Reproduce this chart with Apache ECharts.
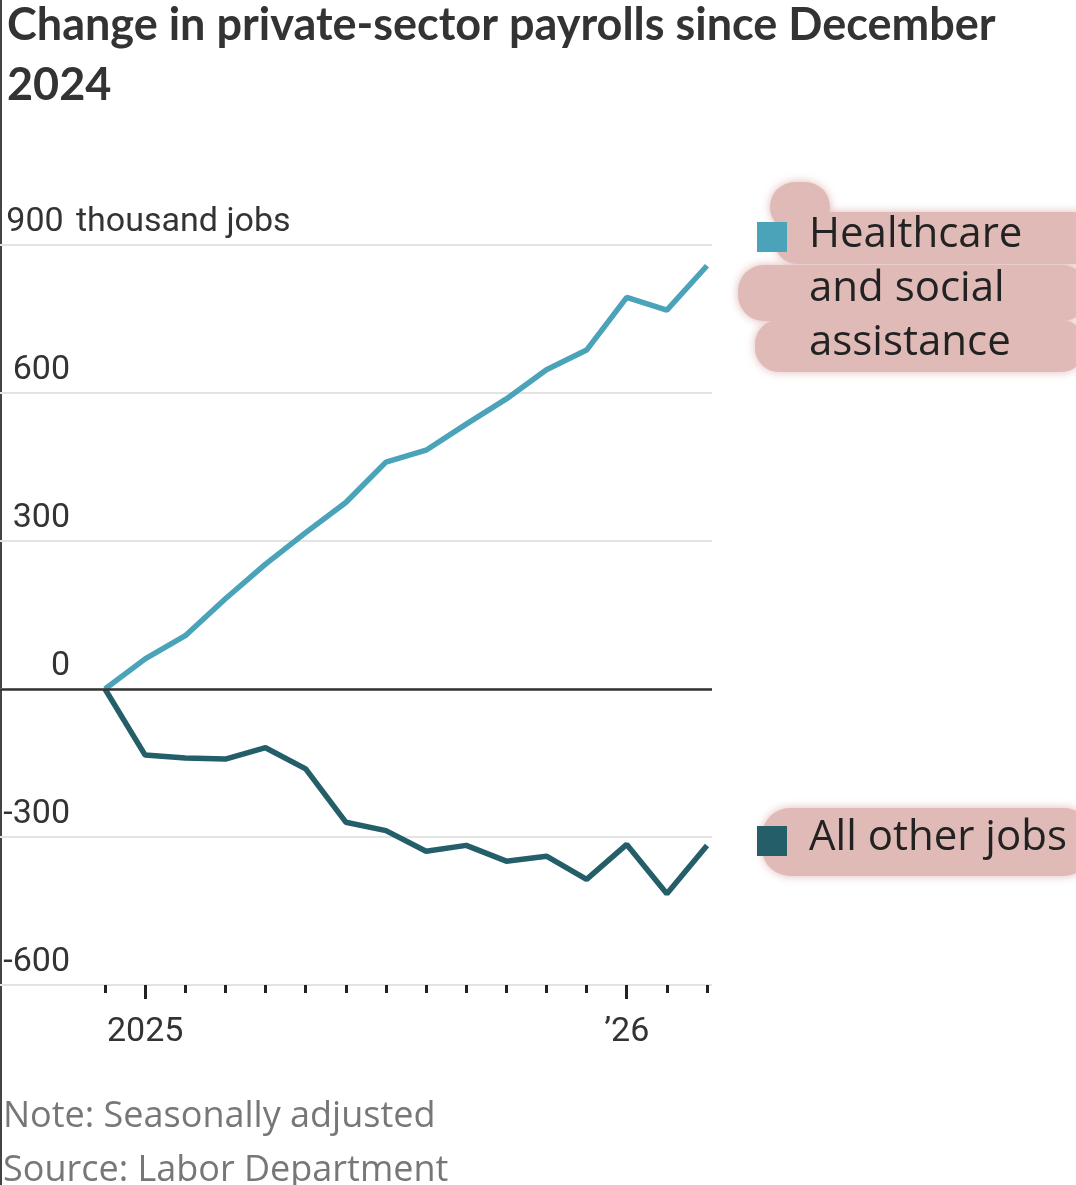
<!DOCTYPE html>
<html>
<head>
<meta charset="utf-8">
<script src="https://cdn.jsdelivr.net/npm/echarts@6/dist/echarts.min.js"></script>
<style>
  html, body { margin: 0; padding: 0; background: #fff; }
  #chart { width: 1076px; height: 1185px; }
</style>
</head>
<body>
<div id="chart"></div>
<script>
// months from Dec 2024 to Mar 2026
var months = ['Dec 2024', 'Jan 2025', 'Feb 2025', 'Mar 2025', 'Apr 2025', 'May 2025', 'Jun 2025',
  'Jul 2025', 'Aug 2025', 'Sep 2025', 'Oct 2025', 'Nov 2025', 'Dec 2025', 'Jan 2026', 'Feb 2026', 'Mar 2026'];

// change since Dec 2024, thousands of jobs
var healthcare = [0, 61, 108, 183, 253, 317, 378, 460, 484, 537, 588, 647, 687, 794, 768, 858];
var otherJobs = [0, -134, -140, -142, -119, -162, -270, -287, -329, -317, -349, -339, -386, -315, -415, -317];

var yTicks = [-600, -300, 0, 300, 600, 900];
var yearLabels = { 'Jan 2025': '2025', 'Jan 2026': '\u201926' };

var axisFont = "Roboto, sans-serif";
var plain = "'Open Sans', 'Noto Sans', sans-serif";
var pink = '#dfbab7';

var chart = echarts.init(document.getElementById('chart'));

function blob(x, y, w, h, r) {
  return {
    type: 'rect', z: 1, shape: { x: x, y: y, width: w, height: h, r: r },
    style: { fill: pink, shadowBlur: 10, shadowColor: pink }
  };
}

var option = {
  backgroundColor: '#fff',
  animation: false,
  title: {
    text: 'Change in private-sector payrolls since December\n2024',
    left: 2,
    top: -10,
    textStyle: { fontFamily: 'Lato, sans-serif', fontWeight: 'bold', fontSize: 45, color: '#333', lineHeight: 60 }
  },
  grid: [
    { left: 0, right: 364, top: 245, bottom: 200 },
    { left: 105, right: 369, top: 245, bottom: 200 }
  ],
  xAxis: [
    { gridIndex: 0, type: 'value', min: 0, max: 1, show: false },
    {
      gridIndex: 1, type: 'category', data: months, boundaryGap: false, position: 'bottom',
      axisLine: { show: false, onZero: false },
      axisTick: { show: true, interval: 0, length: 8, lineStyle: { color: '#222', width: 3 } },
      axisLabel: { show: false, interval: 0 }
    },
    {
      gridIndex: 1, type: 'category', data: months, boundaryGap: false, position: 'bottom',
      axisLine: { show: false, onZero: false },
      axisTick: {
        show: true, length: 14, lineStyle: { color: '#222', width: 3 },
        interval: function (i, v) { return !!yearLabels[v]; }
      },
      axisLabel: {
        show: true, margin: 30,
        interval: function (i, v) { return !!yearLabels[v]; },
        formatter: function (v) { return yearLabels[v] || ''; },
        fontFamily: axisFont, fontSize: 34, color: '#333'
      }
    }
  ],
  yAxis: [
    {
      gridIndex: 0, type: 'value', min: yTicks[0], max: yTicks[yTicks.length - 1], interval: 300,
      axisLine: { show: false }, axisTick: { show: false },
      splitLine: { show: true, lineStyle: { color: '#e3e3e3', width: 2 } },
      axisLabel: {
        inside: true, margin: 0, verticalAlign: 'bottom', padding: [0, 0, 6, 0],
        formatter: function (v) {
          return v === 900 ? '{n|' + v + '}{t|thousand jobs}' : '{n|' + v + '}';
        },
        rich: {
          n: { width: 70, align: 'right', fontFamily: axisFont, fontSize: 34, color: '#333' },
          t: { fontFamily: axisFont, fontSize: 34, color: '#333', padding: [0, 0, 0, 6] }
        },
        fontFamily: axisFont, fontSize: 34, color: '#333'
      }
    },
    { gridIndex: 1, type: 'value', min: yTicks[0], max: yTicks[yTicks.length - 1], show: false }
  ],
  series: [
    {
      type: 'line', xAxisIndex: 0, yAxisIndex: 0, data: [], silent: true,
      markLine: {
        symbol: 'none', silent: true, label: { show: false },
        lineStyle: { color: '#333', width: 2.5, type: 'solid' },
        data: [{ yAxis: 0 }]
      }
    },
    {
      name: 'Healthcare and social assistance', type: 'line', xAxisIndex: 1, yAxisIndex: 1,
      data: healthcare, showSymbol: false, z: 4,
      lineStyle: { color: '#4ba3ba', width: 5.5 }
    },
    {
      name: 'All other jobs', type: 'line', xAxisIndex: 1, yAxisIndex: 1,
      data: otherJobs, showSymbol: false, z: 3,
      lineStyle: { color: '#245f69', width: 5.5 }
    }
  ],
  graphic: [
    // left edge border
    { type: 'line', shape: { x1: 1, y1: 0, x2: 1, y2: 1185 }, style: { stroke: '#444', lineWidth: 2 } },
    // pink highlighter marks
    blob(770, 182, 60, 50, 25),
    blob(775, 212, 320, 52, 22),
    blob(738, 265, 350, 56, 26),
    blob(755, 320, 330, 52, 24),
    blob(762, 808, 330, 68, 28),
    // legend
    { type: 'rect', z: 5, shape: { x: 757, y: 222, width: 30, height: 30 }, style: { fill: '#4ba3ba' } },
    {
      type: 'text', z: 5, left: 809, top: 208,
      style: { text: 'Healthcare\nand social\nassistance', font: '42px ' + plain, fill: '#222', lineHeight: 54 }
    },
    { type: 'rect', z: 5, shape: { x: 757, y: 826, width: 30, height: 30 }, style: { fill: '#245f69' } },
    {
      type: 'text', z: 5, left: 809, top: 811,
      style: { text: 'All other jobs', font: '42px ' + plain, fill: '#222', lineHeight: 54 }
    },
    // footer
    {
      type: 'text', left: 3, top: 1090,
      style: { text: 'Note: Seasonally adjusted\nSource: Labor Department', font: '36px ' + plain, fill: '#777', lineHeight: 54 }
    }
  ]
};

chart.setOption(option);
</script>
</body>
</html>
